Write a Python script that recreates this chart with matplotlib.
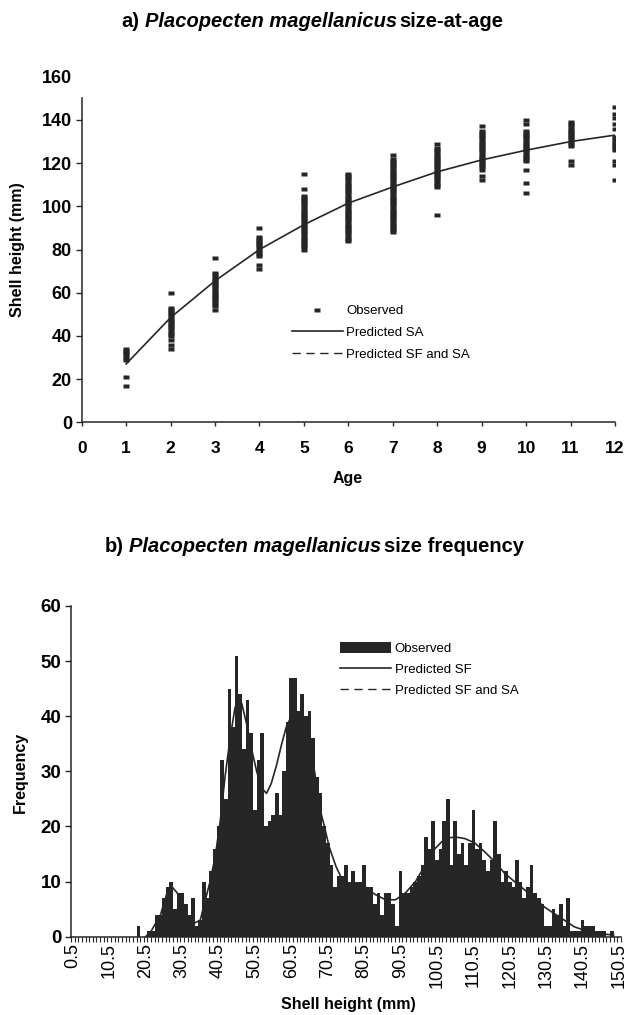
import matplotlib.pyplot as plt
from matplotlib.patches import Patch
from matplotlib.lines import Line2D

plt.rcParams['font.family'] = ['Liberation Sans', 'DejaVu Sans']

INK = '#262626'

# a) size-at-age: observed shell heights by age, and the predicted growth curve
ages = list(range(1, 13))
obs_heights = [
    [34, 33, 32, 31, 30, 29, 21, 17],
    [60, 53, 52, 51, 50, 49, 48, 47, 46, 45, 44, 43, 42, 41, 40, 38, 36, 34],
    [76, 69, 68, 67, 66, 65, 64, 63, 62, 61, 60, 59, 58, 57, 56, 55, 54, 52],
    [90, 86, 85, 84, 83, 82, 81, 80, 79, 78, 77, 73, 71],
    [115, 108, 105, 104, 103, 102, 101, 100, 99, 98, 97, 96, 95, 94, 93, 92,
     91, 90, 89, 88, 87, 86, 85, 84, 83, 82, 81, 80],
    [115, 114, 113, 112, 111, 110, 109, 108, 107, 106, 105, 104, 103, 102, 101,
     100, 99, 98, 97, 96, 95, 94, 93, 92, 91, 90, 89, 88, 87, 86, 85, 84],
    [124, 122, 121, 120, 119, 118, 117, 116, 115, 114, 113, 112, 111, 110, 109,
     108, 107, 106, 105, 104, 103, 102, 101, 100, 99, 98, 97, 96, 95, 94, 93,
     92, 91, 90, 89, 88],
    [129, 127, 126, 125, 124, 123, 122, 121, 120, 119, 118, 117, 116, 115, 114,
     113, 112, 111, 110, 109, 96],
    [137, 135, 134, 133, 132, 131, 130, 129, 128, 127, 126, 125, 124, 123, 122,
     121, 120, 119, 118, 117, 114, 112],
    [140, 138, 135, 134, 133, 132, 131, 130, 129, 128, 127, 126, 125, 124, 123,
     122, 121, 117, 111, 106],
    [139, 138, 137, 136, 135, 134, 133, 132, 131, 130, 129, 128, 121, 119],
    [146, 143, 141, 138, 136, 132, 131, 130, 129, 128, 127, 126, 121, 119, 112],
]
pred_sa = [27, 48.5, 65.5, 80, 91.5, 101.5, 109, 116, 121.5, 126, 130, 133]

# b) size frequency: counts per 1 mm shell-height class (0.5 ... 150.5)
size_class = [0.5 + i for i in range(151)]
freq = [
    0, 0, 0, 0, 0, 0, 0, 0, 0, 0,
    0, 0, 0, 0, 0, 0, 0, 0, 2, 0,
    0, 1, 1, 4, 4, 7, 9, 10, 5, 8,
    8, 6, 4, 7, 2, 3, 10, 7, 12, 16,
    20, 32, 25, 45, 38, 51, 44, 34, 43, 37,
    23, 32, 37, 20, 21, 22, 26, 22, 30, 39,
    47, 47, 41, 44, 40, 41, 36, 29, 26, 20,
    17, 13, 9, 11, 11, 13, 10, 12, 10, 10,
    13, 9, 9, 6, 8, 4, 8, 8, 6, 2,
    12, 8, 8, 9, 10, 11, 13, 18, 16, 21,
    14, 16, 21, 25, 13, 21, 15, 17, 13, 17,
    23, 16, 17, 14, 12, 14, 21, 15, 10, 12,
    10, 9, 14, 10, 7, 9, 13, 8, 7, 6,
    2, 2, 5, 4, 6, 2, 7, 1, 1, 1,
    3, 2, 2, 2, 1, 1, 1, 0, 1, 0,
    0,
]
sf_x = [20.5, 22, 24.6, 26.4, 27.8, 29.1, 30.5, 31.9, 33.7, 35.5, 36.9, 38.2,
        39.6, 41, 42.3, 43.7, 45, 45.9, 46.9, 48.2, 49.6, 51, 52.3, 53.7, 55,
        56.4, 57.8, 59.1, 60.5, 61.9, 63.2, 65, 66.9, 68.2, 69.6, 70.9, 72.8,
        74.1, 76, 78.2, 80.9, 83.7, 86.4, 89.1, 91.8, 94.6, 97.3, 100, 102.7,
        105.5, 108.2, 110.9, 113.6, 116.4, 119.1, 121.8, 124.6, 127.3, 130,
        132.7, 135.5, 138.2, 140.9, 144.5, 149]
sf_y = [0, 1, 4, 8, 9, 8, 6, 3.6, 2.4, 3, 6.7, 10,
        14.5, 21, 29, 36, 41.4, 43, 42.3, 38.7, 34, 30, 27, 26, 27.8,
        31, 34.8, 38, 40, 40.5, 39, 35, 30, 23.6, 20, 16.3, 12.7,
        10.9, 9, 8.8, 8.8, 7.6, 6.7, 6.7, 7.9, 10, 13, 16, 17.8,
        18.1, 17.8, 17, 15.4, 13.6, 11.5, 10, 8.5, 7, 5.4,
        4.2, 3, 1.8, 1.2, 0.6, 0.3]

W, H = 627, 1015
fig = plt.figure(figsize=(W / 100, H / 100), dpi=100)


def px(x, y):
    return x / W, 1 - y / H


def split_title(x, y, parts, size=14.5):
    # bold title made of upright and italic pieces laid end to end
    t = fig.text(*px(x, y), parts[0][0], fontsize=size, fontweight='bold',
                 fontstyle=parts[0][1], va='center', ha='left')
    for txt, style, gap in parts[1:]:
        t = fig.axes[0].annotate(txt, xy=(1, 0.5), xycoords=t, xytext=(gap, 0),
                                 textcoords='offset points', fontsize=size,
                                 fontweight='bold', fontstyle=style,
                                 va='center', ha='left', annotation_clip=False)


dash = [(-1, -0.6), (1, -0.6), (1, 0.6), (-1, 0.6)]

# ---- a) size-at-age ----
ax1 = fig.add_axes([*px(81.7, 422.3), 533.3 / W, 345.5 / H])
for age, hs in zip(ages, obs_heights):
    ax1.plot([age] * len(hs), hs, ls='none', marker=dash, ms=4.6,
             color=INK, mec='none')
ax1.plot(ages, pred_sa, color=INK, lw=1.2)

ax1.set_xlim(0, 12)
ax1.set_ylim(0, 160)
ax1.set_xticks(range(0, 13), [str(v) for v in range(0, 13)],
               fontweight='bold', fontsize=12.5)
ax1.set_yticks(range(0, 161, 20), [str(v) for v in range(0, 161, 20)],
               fontweight='bold', fontsize=13)
ax1.yaxis.get_major_ticks()[-1].tick1line.set_visible(False)
ax1.tick_params(axis='x', length=3, width=1, pad=10.5, color=INK)
ax1.tick_params(axis='y', length=4, width=1, pad=3, color=INK)
for s in ['top', 'right']:
    ax1.spines[s].set_visible(False)
for s in ['left', 'bottom']:
    ax1.spines[s].set_linewidth(1.1)
    ax1.spines[s].set_color(INK)
ax1.spines['left'].set_bounds(0, 150)

fig.text(*px(18, 250), 'Shell height (mm)', rotation=90, fontsize=11.5,
         fontweight='bold', ha='center', va='center')
fig.text(*px(348, 478), 'Age', fontsize=11.5, fontweight='bold',
         ha='center', va='center')

leg1 = [Line2D([], [], ls='none', marker=dash, ms=4.6, color=INK, mec='none'),
        Line2D([], [], color=INK, lw=1.2),
        Line2D([], [], color=INK, lw=1.0, ls=(0, (6, 4)))]
fig.legend(leg1, ['Observed', 'Predicted SA', 'Predicted SF and SA'],
           loc='upper left', bbox_to_anchor=px(291.7, 305), frameon=False,
           fontsize=9.5, handlelength=3.9, handletextpad=0.25,
           labelspacing=0.73, borderpad=0, borderaxespad=0)

# ---- b) size frequency ----
ax2 = fig.add_axes([*px(71, 936.7), 549.8 / W, 330.7 / H])
ax2.bar(size_class, freq, width=1.0, color=INK, linewidth=0)
ax2.plot(sf_x, sf_y, color=INK, lw=1.2)

ax2.set_xlim(0, 151)
ax2.set_ylim(0, 60)
xt = [0.5 + 10 * i for i in range(16)]
ax2.set_xticks(xt, [f'{v:.1f}' for v in xt], rotation=90, fontsize=13)
ax2.set_xticks(range(0, 152), minor=True)
ax2.set_yticks(range(0, 61, 10), [str(v) for v in range(0, 61, 10)],
               fontweight='bold', fontsize=13.5)
ax2.tick_params(axis='x', which='major', length=0, pad=4.5)
ax2.tick_params(axis='x', which='minor', length=3.5, width=0.8, color=INK)
ax2.tick_params(axis='y', length=4, width=1, pad=3, color=INK)
for s in ['top', 'right']:
    ax2.spines[s].set_visible(False)
for s in ['left', 'bottom']:
    ax2.spines[s].set_linewidth(1.1)
    ax2.spines[s].set_color(INK)

fig.text(*px(20, 772), 'Frequency', rotation=90, fontsize=11.5,
         fontweight='bold', ha='center', va='center')
fig.text(*px(348, 1005), 'Shell height (mm)', fontsize=11.5,
         fontweight='bold', ha='center', va='center')

leg2 = [Patch(facecolor=INK, edgecolor='none'),
        Line2D([], [], color=INK, lw=1.2),
        Line2D([], [], color=INK, lw=1.0, ls=(0, (6, 4)))]
fig.legend(leg2, ['Observed', 'Predicted SF', 'Predicted SF and SA'],
           loc='upper left', bbox_to_anchor=px(340, 642), frameon=False,
           fontsize=9.5, handlelength=3.9, handleheight=0.9,
           handletextpad=0.25, labelspacing=0.6, borderpad=0,
           borderaxespad=0)

split_title(121.7, 21.7, [('a)', 'normal'),
                          ('Placopecten magellanicus', 'italic', 3.5),
                          ('size-at-age', 'normal', 2)])
split_title(105, 546.7, [('b)', 'normal'),
                         ('Placopecten magellanicus', 'italic', 3.5),
                         ('size frequency', 'normal', 2)])

fig.savefig('out.png', dpi=100)
